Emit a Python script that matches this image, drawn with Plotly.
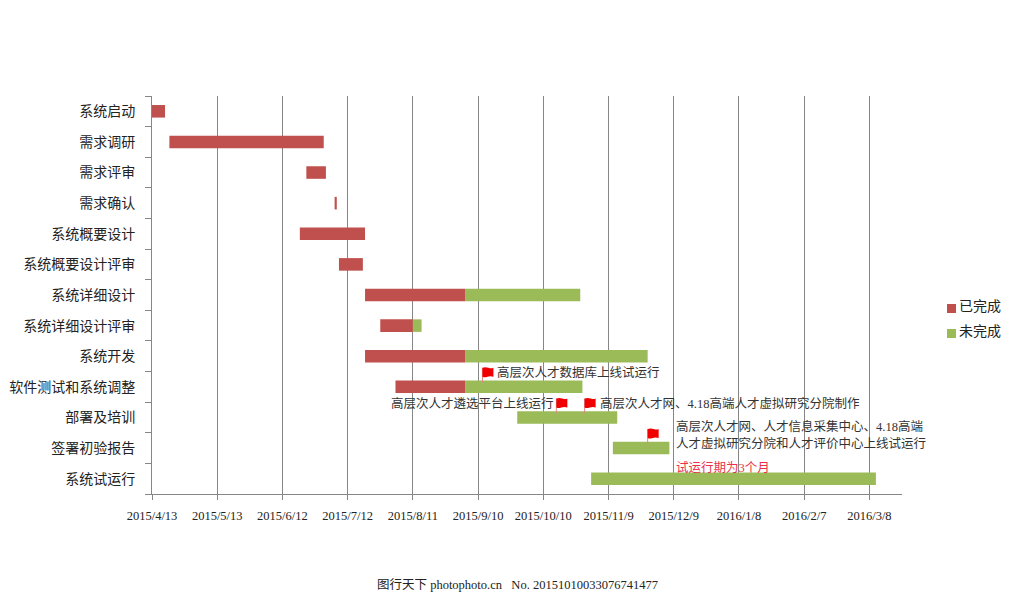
import pandas as pd
import plotly.graph_objects as go

tasks = ['系统启动', '需求调研', '需求评审', '需求确认', '系统概要设计', '系统概要设计评审', '系统详细设计',
         '系统详细设计评审', '系统开发', '软件测试和系统调整', '部署及培训', '签署初验报告', '系统试运行']

done_rows = [0, 1, 2, 3, 4, 5, 6, 7, 8, 9]
done_start = ['2015-04-13', '2015-04-21', '2015-06-23', '2015-07-06', '2015-06-20', '2015-07-08',
              '2015-07-20', '2015-07-27', '2015-07-20', '2015-08-03']
done_end = ['2015-04-19', '2015-07-01', '2015-07-02', '2015-07-07', '2015-07-20', '2015-07-19',
            '2015-09-04', '2015-08-11', '2015-09-04', '2015-09-04']

todo_rows = [6, 7, 8, 9, 10, 11, 12]
todo_start = ['2015-09-04', '2015-08-11', '2015-09-04', '2015-09-04', '2015-09-28', '2015-11-11', '2015-11-01']
todo_end = ['2015-10-27', '2015-08-15', '2015-11-27', '2015-10-28', '2015-11-13', '2015-12-07', '2016-03-11']

tick_dates = ['2015-04-13', '2015-05-13', '2015-06-12', '2015-07-12', '2015-08-11', '2015-09-10',
              '2015-10-10', '2015-11-09', '2015-12-09', '2016-01-08', '2016-02-07', '2016-03-08']
tick_labels = ['2015/4/13', '2015/5/13', '2015/6/12', '2015/7/12', '2015/8/11', '2015/9/10',
               '2015/10/10', '2015/11/9', '2015/12/9', '2016/1/8', '2016/2/7', '2016/3/8']

flag_dates = ['2015-09-12', '2015-10-16', '2015-10-29', '2015-11-27']
flag_rows = [9, 10, 10, 11]

note_texts = ['高层次人才数据库上线试运行', '高层次人才遴选平台上线运行', '高层次人才网、4.18高端人才虚拟研究分院制作',
              '高层次人才网、人才信息采集中心、4.18高端', '人才虚拟研究分院和人才评价中心上线试运行', '试运行期为3个月']
note_dates = ['2015-09-18', '2015-10-16', '2015-11-04', '2015-12-09', '2015-12-09', '2015-12-09']
note_rows = [8.52, 9.56, 9.56, 10.28, 10.84, 11.62]
note_anchor = ['left', 'right', 'left', 'left', 'left', 'left']
note_colors = ['#333333', '#333333', '#333333', '#333333', '#333333', '#e8334a']

legend_names = ['已完成', '未完成']
RED = '#C0504D'
GREEN = '#9BBB59'
GREY = '#868686'
FONT = 'Liberation Serif, Noto Sans CJK SC'


def durations(start, end):
    return (pd.to_datetime(end) - pd.to_datetime(start)).total_seconds() * 1000


fig = go.Figure()
fig.add_bar(y=done_rows, x=list(durations(done_start, done_end)), base=done_start, orientation='h',
            width=0.41, marker=dict(color=RED, line_width=0), name=legend_names[0], showlegend=False)
fig.add_bar(y=todo_rows, x=list(durations(todo_start, todo_end)), base=todo_start, orientation='h',
            width=0.41, marker=dict(color=GREEN, line_width=0), name=legend_names[1], showlegend=False)

# flags: pixel sized paths hung on a date and a row
for d, r in zip(flag_dates, flag_rows):
    fig.add_shape(type='path', xsizemode='pixel', ysizemode='pixel', xanchor=d, yanchor=r, xref='x', yref='y',
                  path='M0,4 L0,19', line=dict(color='#d98a8a', width=1))
    fig.add_shape(type='path', xsizemode='pixel', ysizemode='pixel', xanchor=d, yanchor=r, xref='x', yref='y',
                  path='M0,19 Q3,20 6,19 T11,19 L11,10 Q8,11 5,10 T0,10 Z',
                  fillcolor='#f00000', line_width=0)

for t, d, r, a, c in zip(note_texts, note_dates, note_rows, note_anchor, note_colors):
    fig.add_annotation(text=t, x=d, y=r, xref='x', yref='y', xanchor=a, yanchor='middle', showarrow=False,
                       font=dict(family=FONT, size=12.5, color=c))

# legend drawn by hand, the swatches sit closer to the text than plotly's own legend allows
for name, color, py in zip(legend_names, [RED, GREEN], [306, 331]):
    fig.add_shape(type='rect', xref='paper', yref='paper', x0=(947 - 152) / 750, x1=(956 - 152) / 750,
                  y0=(494 - py - 7) / 398, y1=(494 - py + 2) / 398, fillcolor=color, line_width=0)
    fig.add_annotation(text=name, xref='paper', yref='paper', x=(957 - 152) / 750, y=(494 - py) / 398,
                       xanchor='left', yanchor='middle', showarrow=False,
                       font=dict(family=FONT, size=14, color='#222222'))

fig.add_annotation(text='图行天下 photophoto.cn   No. 20151010033076741477', xref='paper', yref='paper',
                   x=(517 - 152) / 750, y=(494 - 585) / 398, xanchor='center', yanchor='middle', showarrow=False,
                   font=dict(family=FONT, size=12.5, color='#222222'))

# the page body adds 8px on the top and left, so the margins are 8px smaller
fig.update_layout(
    width=1016, height=586, autosize=False,
    margin=dict(l=144, r=122, t=88, b=100),
    plot_bgcolor='white', paper_bgcolor='white',
    barmode='overlay', showlegend=False,
)
fig.update_xaxes(
    type='date', range=['2015-04-13', '2016-03-23'], automargin=False,
    tickmode='array', tickvals=tick_dates, ticktext=tick_labels,
    ticks='outside', ticklen=5, tickcolor=GREY, ticklabelstandoff=5,
    tickfont=dict(family=FONT, size=12.5, color='#222222'),
    showgrid=True, gridcolor=GREY, gridwidth=1,
    showline=True, linecolor=GREY, linewidth=1, zeroline=False,
)
fig.update_yaxes(
    range=[12.5, -0.5], automargin=False,
    tickmode='array', tickvals=list(range(len(tasks))), ticktext=tasks,
    ticks='', ticklabelstandoff=13,
    tickfont=dict(family='Noto Sans CJK SC', size=14, color='#222222'),
    minor=dict(tickmode='array', tickvals=[i - 0.5 for i in range(len(tasks) + 1)],
               ticks='outside', ticklen=6, tickcolor=GREY, showgrid=False),
    showgrid=False, showline=True, linecolor=GREY, linewidth=1, zeroline=False,
)

fig.write_html("out.html")
